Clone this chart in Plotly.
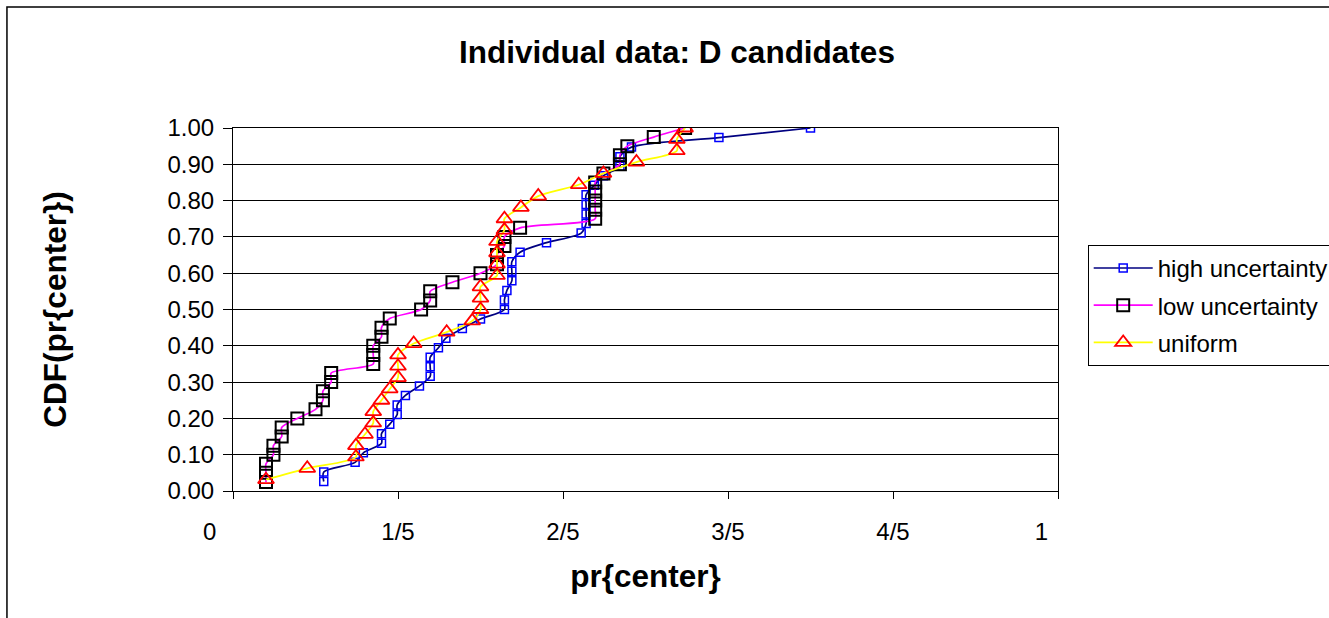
import plotly.graph_objects as go

# CDF levels (i/n) and sorted pr{center} values for each group
high_x = [0.110, 0.110, 0.148, 0.158, 0.180, 0.180, 0.190, 0.199, 0.199, 0.209,
          0.226, 0.239, 0.239, 0.239, 0.249, 0.258, 0.278, 0.300, 0.329, 0.329,
          0.332, 0.338, 0.338, 0.338, 0.348, 0.380, 0.422, 0.428, 0.428, 0.428,
          0.428, 0.438, 0.449, 0.469, 0.469, 0.483, 0.589, 0.700]
high_y = [(i + 1) / 38 for i in range(38)]

low_x = [0.040, 0.040, 0.040, 0.049, 0.049, 0.059, 0.059, 0.078, 0.100, 0.109,
         0.109, 0.119, 0.119, 0.170, 0.170, 0.170, 0.180, 0.180, 0.190, 0.228,
         0.239, 0.239, 0.266, 0.300, 0.320, 0.320, 0.329, 0.329, 0.348, 0.439,
         0.439, 0.439, 0.439, 0.439, 0.449, 0.469, 0.469, 0.478, 0.510, 0.548]
low_y = [(i + 1) / 40 for i in range(40)]

uni_x = [0.040, 0.090, 0.149, 0.149, 0.160, 0.170, 0.170, 0.180, 0.190, 0.200,
         0.200, 0.200, 0.219, 0.259, 0.290, 0.300, 0.300, 0.300, 0.320, 0.320,
         0.320, 0.320, 0.329, 0.329, 0.349, 0.370, 0.419, 0.449, 0.489, 0.538,
         0.538, 0.548]
uni_y = [(i + 1) / 32 for i in range(32)]

NBSP = "\u00a0"
x_ticks = [0, 0.2, 0.4, 0.6, 0.8, 1.0]
x_tick_labels = ["0" + NBSP * 7, "1/5", "2/5", "3/5", "4/5", "1" + NBSP * 5]
y_ticks = [i / 10 for i in range(11)]

FONT = "Liberation Sans, Arial, sans-serif"

fig = go.Figure()
fig.add_trace(go.Scatter(
    x=high_x, y=high_y, name="high uncertainty", mode="lines+markers",
    legendgroup="high",
    line=dict(color="#000080", width=1.7, shape="spline", smoothing=0.8),
    marker=dict(symbol="square-open", size=8, color="#0000FF", line=dict(width=1.5)),
))
fig.add_trace(go.Scatter(
    x=low_x, y=low_y, name="low uncertainty", mode="lines+markers",
    legendgroup="low",
    line=dict(color="#FF00FF", width=1.7, shape="spline", smoothing=0.8),
    marker=dict(symbol="square-open", size=12, color="#000000", line=dict(width=2)),
))
fig.add_trace(go.Scatter(
    x=uni_x, y=uni_y, name="uniform", mode="lines+markers",
    legendgroup="uniform",
    line=dict(color="#FFFF00", width=1.8, shape="spline", smoothing=0.8),
    marker=dict(symbol="triangle-up-open", size=14, color="#FF0000", line=dict(width=1.8)),
))

fig.update_layout(
    width=1329, height=618,
    margin=dict(l=233, r=271, t=128, b=127, autoexpand=False),
    paper_bgcolor="white", plot_bgcolor="white",
    font=dict(family=FONT, size=24, color="black"),
    title=dict(text="<b>Individual data: D candidates</b>", x=677 / 1329, xref="container",
               xanchor="center", y=1 - 52 / 618, yref="container", yanchor="middle",
               font=dict(size=31.5, family=FONT)),
    legend=dict(x=1.036, y=0.678, xanchor="left", yanchor="top",
                bordercolor="black", borderwidth=1, bgcolor="white",
                font=dict(size=24, family=FONT), itemwidth=59,
                tracegroupgap=3),
    showlegend=True,
)

fig.update_xaxes(
    range=[0, 1], tickvals=x_ticks, ticktext=x_tick_labels,
    showgrid=False, zeroline=False,
    showline=True, linecolor="black", linewidth=1, mirror=True,
    ticks="outside", ticklen=7, tickcolor="black",
    ticklabelstandoff=12,
    tickfont=dict(size=24, family=FONT),
    title=dict(text="<b>pr{center}</b>", font=dict(size=31.5, family=FONT), standoff=21),
)
fig.update_yaxes(
    range=[0, 1], tickvals=y_ticks, tickformat=".2f",
    showgrid=True, gridcolor="black", gridwidth=1, zeroline=False,
    showline=True, linecolor="black", linewidth=1, mirror=True,
    ticks="outside", ticklen=9, tickcolor="black",
    ticklabelstandoff=4,
    tickfont=dict(size=24, family=FONT),
    title=dict(text="<b>CDF(pr{center})</b>", font=dict(size=31.5, family=FONT), standoff=91),
)

# chart-area frame around the whole figure
fig.add_shape(type="rect", xref="paper", yref="paper",
              x0=-0.274, x1=1.36, y0=-0.38, y1=1.333,
              line=dict(color="black", width=1.5), fillcolor="rgba(0,0,0,0)",
              layer="below")

fig.write_html("out.html")
